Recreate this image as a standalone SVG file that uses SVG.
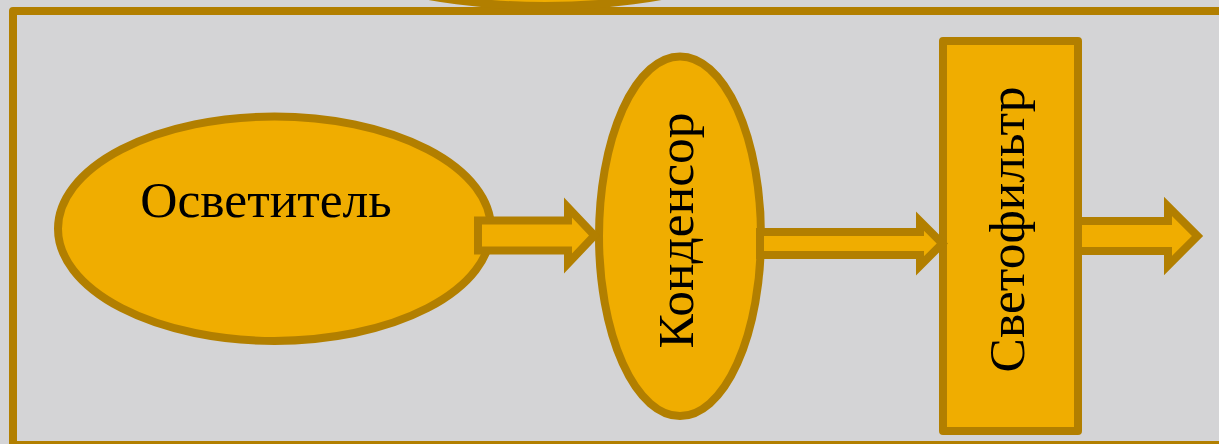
<svg xmlns="http://www.w3.org/2000/svg" width="1219" height="444" viewBox="0 0 1219 444">
  <style>
    .shape { fill: #F0AD00; stroke: #B27F00; stroke-width: 8; }
    .box { stroke-linejoin: round; }
    .arrow { fill: #F0AD00; stroke: #B27F00; stroke-width: 8; stroke-linejoin: miter; stroke-miterlimit: 6; }
    .label { font-family: "Liberation Serif", "DejaVu Serif", serif; font-size: 51.5px; fill: #000000; text-anchor: middle; }
  </style>

  <!-- page background -->
  <rect x="0" y="0" width="1219" height="444" fill="#D4D4D6"/>

  <!-- frame around the optical path -->
  <rect id="frame" x="13" y="11" width="1220" height="434" fill="#D4D4D6" stroke="#B27F00" stroke-width="8" stroke-linejoin="round"/>

  <!-- element partly above the frame -->
  <g id="node-top">
    <ellipse class="shape" cx="545" cy="-74" rx="240" ry="80"/>
  </g>

  <g id="node-illuminator">
    <ellipse class="shape" cx="274.5" cy="228.7" rx="216.5" ry="112.2"/>
    <text class="label" x="266" y="216.5">Осветитель</text>
  </g>

  <g id="node-condenser">
    <ellipse class="shape" cx="680" cy="236.3" rx="81" ry="179.8"/>
    <text class="label" transform="translate(692.5 230.5) rotate(-90)">Конденсор</text>
  </g>

  <g id="node-filter">
    <rect class="shape box" x="943" y="41" width="135" height="390"/>
    <text class="label" transform="translate(1024 229.5) rotate(-90)">Светофильтр</text>
  </g>

  <!-- block arrows along the light path -->
  <g id="connectors">
    <polygon class="arrow" points="478,220.5 568,220.5 568,207.5 594.5,235.5 568,263.5 568,250.5 478,250.5"/>
    <polygon class="arrow" points="760,232 920,232 920,221.2 942.3,243.5 920,265.8 920,255 760,255"/>
    <polygon class="arrow" points="1078,221 1168,221 1168,206.5 1197.5,236 1168,265.5 1168,251 1078,251"/>
  </g>
</svg>
